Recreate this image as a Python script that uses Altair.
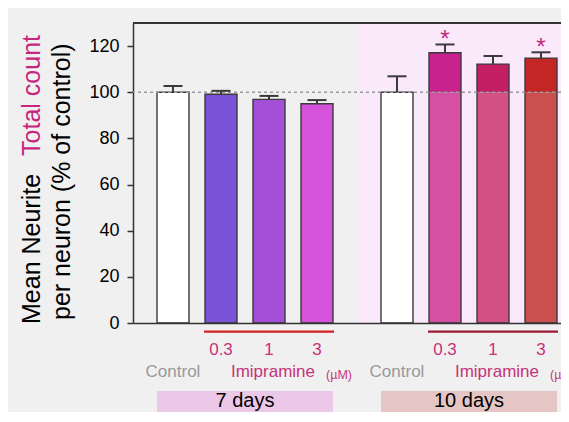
import altair as alt
import pandas as pd

# ---- data ----
periods = ["7 days", "7 days", "7 days", "7 days", "10 days", "10 days", "10 days", "10 days"]
treatments = ["Control", "0.3", "1", "3", "Control", "0.3", "1", "3"]
means = [100.0, 99.1, 96.9, 95.0, 100.0, 117.1, 112.2, 114.8]
sems = [2.7, 1.5, 1.5, 1.6, 6.9, 3.6, 3.5, 2.5]
significant = [0, 0, 0, 0, 0, 1, 0, 1]

period_order = ["7 days", "10 days"]
treat_order = ["Control", "0.3", "1", "3"]
y_ticks = [0, 20, 40, 60, 80, 100, 120]

df = pd.DataFrame({
    "period": periods, "treatment": treatments, "mean": means,
    "sem": sems, "sig": significant,
})
df["upper"] = df["mean"] + df["sem"]
df["low"] = df["mean"].clip(upper=100)
df["key"] = df["period"] + "|" + df["treatment"]
keys = list(df["key"])

low_colors = ["#ffffff", "#7a52d8", "#a44fd8", "#d552db",
              "#ffffff", "#d54fa3", "#d35085", "#cc4f4f"]
high_colors = ["#ffffff", "#7a52d8", "#a44fd8", "#d552db",
               "#ffffff", "#c8228f", "#c41f64", "#c42525"]

FONT = "Liberation Sans"
PINK = "#c8307a"

X = alt.X("period:N",
          scale=alt.Scale(domain=period_order, range=[0, 448], paddingInner=0, paddingOuter=0),
          axis=alt.Axis(title=None, labels=False, ticks=False, domainColor="#333",
                        domainWidth=1.5))
XO = alt.XOffset("treatment:N",
                 scale=alt.Scale(domain=treat_order, paddingInner=1 / 3, paddingOuter=0.5))
Yaxis = alt.Axis(values=y_ticks, title=None, labelFontSize=18, labelColor="black",
                 labelFont=FONT, tickSize=6, tickColor="#333", tickWidth=1.5,
                 domainColor="#333", domainWidth=1.5, labelPadding=8, grid=False)
yscale = alt.Scale(domain=[0, 130], nice=False)

base = alt.Chart()

# pink background for 10 days
bg = base.mark_rect(color="#f9e9fb").encode(
    x=X, y=alt.value(0), y2=alt.value(300)
).transform_filter("datum.period == '10 days' && datum.treatment == 'Control'")

bars_low = base.mark_bar(strokeWidth=0).encode(
    x=X, xOffset=XO,
    y=alt.Y("low:Q", scale=yscale, axis=Yaxis, title=None),
    color=alt.Color("key:N", scale=alt.Scale(domain=keys, range=low_colors), legend=None),
)

bars_high = base.transform_filter("datum.mean > 100").transform_calculate(hundred="100").mark_bar(
    strokeWidth=0).encode(
    x=X, xOffset=XO,
    y=alt.Y("mean:Q", title=None), y2="hundred:Q",
    fill=alt.Fill("key:N", scale=alt.Scale(domain=keys, range=high_colors), legend=None),
)

outline = base.mark_bar(fillOpacity=0, stroke="#3a3a3a", strokeWidth=1.4).encode(
    x=X, xOffset=XO, y=alt.Y("mean:Q", title=None)
)

err = base.mark_rule(color="#3a3a3a", strokeWidth=2).encode(
    x=X, xOffset=XO, y=alt.Y("upper:Q", title=None), y2="mean:Q"
)
caps = base.mark_tick(orient="horizontal", size=19, thickness=2, color="#3a3a3a",
                      opacity=1).encode(
    x=X, xOffset=XO, y=alt.Y("upper:Q", title=None)
)
stars = base.transform_filter("datum.sig == 1").mark_text(
    text="*", fontSize=24, color="#c8257f", baseline="alphabetic", dy=3, font=FONT
).encode(x=X, xOffset=XO, y=alt.Y("upper:Q", title=None))

ref100 = alt.Chart(pd.DataFrame({"v": [100]})).mark_rule(
    color="#9a9a9a", strokeDash=[3, 3], strokeWidth=1.5
).encode(y=alt.Y("v:Q", title=None))

top_line = alt.Chart(pd.DataFrame({"v": [0]})).mark_rule(color="#333", strokeWidth=2).encode(
    x=alt.value(0), x2=alt.value(448), y=alt.value(0)
)

# labels under bars
dose_lbl = base.transform_filter("datum.treatment != 'Control'").mark_text(
    fontSize=17, color=PINK, font=FONT, baseline="middle"
).encode(x=X, xOffset=XO, y=alt.value(327), text="treatment:N")

ctrl_lbl = base.transform_filter("datum.treatment == 'Control'").mark_text(
    fontSize=17, color="#999999", font=FONT, baseline="middle"
).encode(x=X, xOffset=XO, y=alt.value(349), text="treatment:N")

imi_lbl = base.transform_filter("datum.treatment == '1'").mark_text(
    text="Imipramine", fontSize=17, color=PINK, font=FONT, baseline="middle", dx=4
).encode(x=X, xOffset=XO, y=alt.value(349))

um_lbl = base.transform_filter("datum.treatment == '3'").mark_text(
    text="(µM)", fontSize=12.5, color=PINK, font=FONT, baseline="middle", dx=22
).encode(x=X, xOffset=XO, y=alt.value(352))

red_line_7 = base.transform_filter("datum.key == '7 days|1'").mark_tick(
    orient="horizontal", size=130, thickness=2.2, opacity=1, color="#d42020"
).encode(x=X, xOffset=XO, y=alt.value(308.7))
red_line_10 = base.transform_filter("datum.key == '10 days|1'").mark_tick(
    orient="horizontal", size=130, thickness=2.2, opacity=1, color="#9e1a32"
).encode(x=X, xOffset=XO, y=alt.value(308.7))

day_box_7 = base.transform_filter("datum.key == '7 days|Control'").mark_bar(
    width=176, color="#ecc8e8").encode(x=X, y=alt.value(368), y2=alt.value(395))
day_box_10 = base.transform_filter("datum.key == '10 days|Control'").mark_bar(
    width=176, color="#e6c6c4").encode(x=X, y=alt.value(368), y2=alt.value(395))

day_txt = base.transform_filter("datum.treatment == 'Control'").mark_text(
    fontSize=20, color="black", font=FONT, baseline="alphabetic"
).encode(x=X, y=alt.value(384), text="period:N")

# y-axis title (multi-coloured)
t1 = alt.Chart(pd.DataFrame({"t": ["Mean Neurite"]})).mark_text(
    angle=270, fontSize=25, font=FONT, color="black", align="left", baseline="alphabetic"
).encode(x=alt.value(-93), y=alt.value(301), text="t:N")
t2 = alt.Chart(pd.DataFrame({"t": ["Total count"]})).mark_text(
    angle=270, fontSize=25, font=FONT, color="#c8257f", align="right", baseline="alphabetic"
).encode(x=alt.value(-93), y=alt.value(12), text="t:N")
t3 = alt.Chart(pd.DataFrame({"t": ["per neuron (% of control)"]})).mark_text(
    angle=270, fontSize=25, font=FONT, color="black", align="left", baseline="alphabetic"
).encode(x=alt.value(-63), y=alt.value(297), text="t:N")

chart = alt.layer(
    bg, bars_low, bars_high, outline, ref100, err, caps, stars, top_line,
    dose_lbl, ctrl_lbl, imi_lbl, um_lbl, red_line_7, red_line_10, day_box_7, day_box_10,
    day_txt,
    t1, t2, t3,
    data=df,
).properties(
    width=428, height=300,
    autosize=alt.AutoSizeParams(type="none"),
    padding={"left": 125, "top": 15, "right": 0, "bottom": 89},
    background="#f0f0f0",
).configure_view(stroke=None, fill="white").configure(font=FONT)

chart.save("out.html", embed_options={"renderer": "svg", "actions": False})
